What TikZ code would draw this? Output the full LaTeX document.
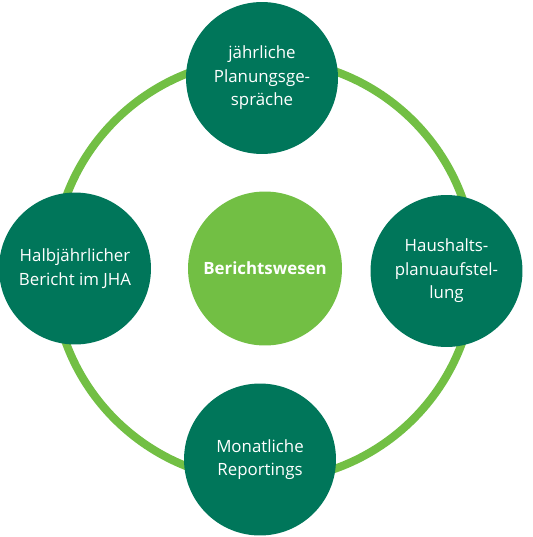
\documentclass[tikz,border=0pt]{standalone}
\usepackage{fontspec}
\setmainfont{Open Sans}
\usepackage{tikz}
\definecolor{darkgreen}{RGB}{0,118,90}
\definecolor{lightgreen}{RGB}{114,191,68}

\begin{document}
\begin{tikzpicture}[
  x=0.02cm, y=-0.02cm,
  snode/.style={circle, fill=darkgreen, text=white, minimum size=3.04cm, inner sep=0pt, align=center, font=\fontsize{9.6}{13.4}\selectfont},
  cnode/.style={circle, fill=lightgreen, text=white, minimum size=3.08cm, inner sep=0pt, align=center, font=\bfseries\fontsize{9.6}{13.4}\selectfont},
  ring/.style={-, line width=4.6pt, draw=lightgreen}
  ]

\useasboundingbox (0,0) rectangle (533,537);
\coordinate (mid) at (264,270);
\draw [ring] (mid) circle [radius=4.22cm];

\node [cnode] (bw) at (265,268.5) {Berichtswesen};
\node [snode] (plan) at (262,78) {jährliche\\Planungsge-\\spräche};
\node [snode] (haus) at (446.5,271) {Haushalts-\\planuaufstel-\\lung};
\node [snode] (mon) at (260,459.5) {Monatliche\\Reportings};
\node [snode] (halb) at (75,268.5) {Halbjährlicher\\Bericht im JHA};

\end{tikzpicture}
\end{document}
